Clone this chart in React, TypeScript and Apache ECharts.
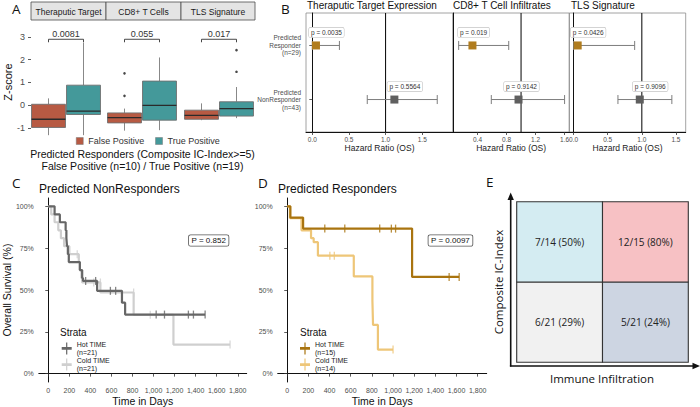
import React, { useEffect, useRef } from "react";
import * as echarts from "echarts";

const FONT = "'Liberation Sans', Arial, Helvetica, sans-serif";
const FONT_E = "'Open Sans', 'Liberation Sans', sans-serif";

// ---------- Panel A: Z-scores of predicted responders ----------
const facetNames = ["Theraputic Target", "CD8+ T Cells", "TLS Signature"];
const groupNames = ["False Positive", "True Positive"];
// [min, Q1, median, Q3, max]
const falsePositiveBoxes = [
  [-1.32, -0.98, -0.62, 0.04, 0.3],
  [-1.12, -0.78, -0.55, -0.34, -0.15],
  [-0.66, -0.62, -0.45, -0.22, 0.08],
];
const truePositiveBoxes = [
  [-1.32, -0.41, -0.26, 0.88, 2.75],
  [-1.1, -0.66, -0.01, 1.06, 2.1],
  [-0.57, -0.48, -0.15, 0.15, 0.8],
];
const falsePositiveOutliers = [[], [1.4, 0.41], []];
const truePositiveOutliers = [[], [], [2.42, 1.47]];
const facetPValues = ["0.0081", "0.055", "0.017"];
const bracketHeight = 2.9;
const zTicks = [-1, 0, 1, 2, 3];

// ---------- Panel B: hazard ratios ----------
const forestTitles = ["Theraputic Target Expression", "CD8+ T Cell Infiltrates", "TLS Signature"];
const rowLabels = ["Predicted\nNonResponder\n(n=43)", "Predicted\nResponder\n(n=29)"];
const hrResponder = [0.05, 0.33, 0.06];
const loResponder = [0.0, 0.14, 0.0];
const hiResponder = [0.37, 0.83, 0.895];
const pResponder = ["p = 0.0035", "p = 0.019", "p = 0.0426"];
const hrNonResponder = [1.12, 0.965, 0.97];
const loNonResponder = [0.75, 0.59, 0.65];
const hiNonResponder = [1.705, 1.6, 1.44];
const pNonResponder = ["p = 0.5564", "p = 0.9142", "p = 0.9096"];
const hrTicks = [
  [0, 0.5, 1, 1.5],
  [0.4, 0.8, 1.2, 1.6],
  [0, 0.5, 1, 1.5],
];
const hrRanges = [
  [-0.086, 1.92],
  [0.062, 1.665],
  [-0.063, 1.643],
];

// ---------- Panels C / D: Kaplan-Meier ----------
const kmTitles = ["Predicted NonResponders", "Predicted Responders"];
const logRankP = ["P = 0.852", "P = 0.0097"];
const dayTicks = [0, 200, 400, 600, 800, 1000, 1200, 1400, 1600, 1800];
const survTicks = [0, 25, 50, 75, 100];
const hotNames = ["Hot TIME\n(n=21)", "Hot TIME\n(n=15)"];
const coldNames = ["Cold TIME\n(n=21)", "Cold TIME\n(n=14)"];

const hotC = [
  [0, 100], [60, 95.2], [110, 90.5], [165, 85.7], [172, 81], [178, 76.2], [186, 71.4],
  [195, 66.7], [300, 61.9], [322, 57.1], [330, 55.4], [464, 49.5], [700, 42.4], [730, 35.3], [1490, 35.3],
];
const hotCCensor = [
  [355, 55.4], [450, 55.4], [590, 49.5], [640, 49.5], [1025, 35.3], [1104, 35.3], [1331, 35.3], [1379, 35.3], [1490, 35.3],
];
const coldC = [
  [0, 100], [28, 95.2], [60, 90.5], [95, 85.7], [120, 81], [150, 76.2], [200, 71.4], [290, 66.7],
  [300, 61.9], [315, 57.1], [322, 54.5], [495, 48.5], [811, 35.2], [1189, 17.4], [1727, 17.4],
];
const coldCCensor = [[275, 71.4], [432, 54.5], [495, 54.5], [811, 48.5], [969, 35.2], [1727, 17.4]];

const hotD = [[0, 100], [30, 93.3], [150, 86.7], [1180, 57.8], [1625, 57.8]];
const hotDCensor = [[355, 86.7], [544, 86.7], [874, 86.7], [984, 86.7], [1024, 86.7], [1530, 57.8], [1625, 57.8]];
const coldD = [
  [0, 100], [25, 92.9], [135, 85.7], [225, 81], [250, 78.6], [290, 70.5], [629, 58.1],
  [805, 43.6], [811, 29.1], [857, 14.4], [1000, 14.4],
];
const coldDCensor = [[403, 70.5], [445, 70.5], [1000, 14.4]];

// ---------- Panel E: response rates by quadrant ----------
const immuneLevels = ["Low", "High"];
const icIndexLevels = ["Low", "High"];
// cells: [immune index, IC-index index]
const quadCells = [
  [0, 0],
  [1, 0],
  [0, 1],
  [1, 1],
];
const quadResponders = [6, 5, 7, 12];
const quadTotals = [21, 21, 14, 15];
const quadColors = ["#F1F1F1", "#CDD5E2", "#D4ECF2", "#F7C1C4"];

// ---------- styles ----------
const COL_FP = "#B75A43";
const COL_TP = "#44999A";
const COL_RESP = "#B07C1E";
const COL_NONRESP = "#5F5F5F";
const COL_HOT_C = "#666666";
const COL_COLD_C = "#CFCFCF";
const COL_HOT_D = "#A9740F";
const COL_COLD_D = "#EEC678";
const PLUS_ICON = "path://M0,4.6H4.4V0H5.6V4.6H10V7.4H5.6V12H4.4V7.4H0Z";

function boxRender(color: string) {
  return (params: any, api: any) => {
    const x = api.value(0);
    const pMin = api.coord([x, api.value(1)]);
    const pQ1 = api.coord([x, api.value(2)]);
    const pMed = api.coord([x, api.value(3)]);
    const pQ3 = api.coord([x, api.value(4)]);
    const pMax = api.coord([x, api.value(5)]);
    const bw = api.size([1, 0])[0] * 0.97;
    const cx = pMed[0];
    const ws = { stroke: "#7a7a7a", lineWidth: 0.9 };
    return {
      type: "group",
      children: [
        { type: "line", shape: { x1: cx, y1: pMax[1], x2: cx, y2: pQ3[1] }, style: ws },
        { type: "line", shape: { x1: cx, y1: pQ1[1], x2: cx, y2: pMin[1] }, style: ws },
        {
          type: "rect",
          shape: { x: cx - bw / 2, y: pQ3[1], width: bw, height: pQ1[1] - pQ3[1] },
          style: { fill: color, stroke: "#6f6f6f", lineWidth: 0.9 },
        },
        {
          type: "line",
          shape: { x1: cx - bw / 2, y1: pMed[1], x2: cx + bw / 2, y2: pMed[1] },
          style: { stroke: "#2a2a2a", lineWidth: 1.3 },
        },
      ],
    };
  };
}

function bracketRender(label: string) {
  return (params: any, api: any) => {
    const y = api.value(1);
    const a = api.coord([0, y]);
    const b = api.coord([1, y]);
    return {
      type: "group",
      children: [
        {
          type: "polyline",
          shape: { points: [[a[0], a[1] + 3], [a[0], a[1]], [b[0], b[1]], [b[0], b[1] + 3]] },
          style: { stroke: "#333", lineWidth: 0.9, fill: "none" },
        },
        {
          type: "text",
          x: (a[0] + b[0]) / 2,
          y: a[1] - 1,
          style: { text: label, fontSize: 9, fontFamily: FONT, fill: "#333", align: "center", verticalAlign: "bottom" },
        },
      ],
    };
  };
}

const labelShift = [7, 14.5, 7];

function forestRender(j: number) {
  return (params: any, api: any) => {
    const hr = api.value(0);
    const lo = api.value(1);
    const hi = api.value(2);
    const row = api.value(3);
    const pc = api.coord([hr, row]);
    const pl = api.coord([lo, row]);
    const ph = api.coord([hi, row]);
    const isResp = row === 2;
    const ls = { stroke: "#7d7d7d", lineWidth: 1 };
    const cap = 4.5;
    return {
      type: "group",
      children: [
        { type: "line", shape: { x1: pl[0], y1: pc[1], x2: ph[0], y2: pc[1] }, style: ls },
        { type: "line", shape: { x1: pl[0], y1: pc[1] - cap, x2: pl[0], y2: pc[1] + cap }, style: ls },
        { type: "line", shape: { x1: ph[0], y1: pc[1] - cap, x2: ph[0], y2: pc[1] + cap }, style: ls },
        {
          type: "rect",
          shape: { x: pc[0] - 4, y: pc[1] - 4, width: 8, height: 8 },
          style: { fill: isResp ? COL_RESP : COL_NONRESP },
        },
        {
          type: "text",
          x: pc[0] - labelShift[j],
          y: pc[1] - 13,
          style: {
            text: isResp ? pResponder[j] : pNonResponder[j],
            fontSize: 6.5,
            fontFamily: FONT,
            fill: "#333",
            align: "left",
            verticalAlign: "middle",
            backgroundColor: "#fff",
            borderColor: "#c4c4c4",
            borderWidth: 0.6,
            borderRadius: 1.5,
            padding: [1.5, 2, 1, 2],
          },
        },
      ],
    };
  };
}

function quadRender(params: any, api: any) {
  const idx = params.dataIndex;
  const c = api.coord([api.value(0), api.value(1)]);
  const s = api.size([1, 1]);
  const r = quadResponders[idx];
  const t = quadTotals[idx];
  return {
    type: "group",
    children: [
      {
        type: "rect",
        shape: { x: c[0] - s[0] / 2, y: c[1] - s[1] / 2, width: s[0], height: s[1] },
        style: { fill: quadColors[idx], stroke: "#333", lineWidth: 1.1 },
      },
      {
        type: "text",
        x: c[0],
        y: c[1],
        style: {
          text: `${r}/${t} (${Math.round((100 * r) / t)}%)`,
          fontSize: 10,
          fontFamily: FONT_E,
          fill: "#222",
          align: "center",
          verticalAlign: "middle",
        },
      },
    ],
  };
}

function txt(text: string, x: number, y: number, size: number, extra: any = {}) {
  return {
    type: "text",
    x,
    y,
    silent: true,
    z: 20,
    style: { text, fontSize: size, fontFamily: FONT, fill: "#111", align: "left", verticalAlign: "middle", ...extra },
  };
}

function buildOption(): any {
  const grids: any[] = [];
  const xAxes: any[] = [];
  const yAxes: any[] = [];
  const series: any[] = [];

  // Panel A grids 0..2
  const aLefts = [31, 107, 184];
  aLefts.forEach((left, i) => {
    grids.push({ left, top: 27, width: 70, height: 110 });
    xAxes.push({ type: "category", gridIndex: i, data: groupNames, show: false });
    yAxes.push({
      type: "value",
      gridIndex: i,
      min: -1.4,
      max: 3.44,
      splitLine: { show: false },
      axisLine: { show: false },
      axisTick: { show: i === 0, length: 3, customValues: zTicks, lineStyle: { color: "#333", width: 0.8 } },
      axisLabel: { show: i === 0, customValues: zTicks, fontSize: 9, color: "#4d4d4d", margin: 6, fontFamily: FONT },
      name: i === 0 ? "Z-score" : "",
      nameLocation: "middle",
      nameGap: 12,
      nameTextStyle: { fontSize: 11, color: "#111", fontFamily: FONT },
    });
    [falsePositiveBoxes, truePositiveBoxes].forEach((boxes, g) => {
      const color = g ? COL_TP : COL_FP;
      series.push({
        type: "custom",
        name: groupNames[g],
        xAxisIndex: i,
        yAxisIndex: i,
        itemStyle: { color },
        encode: { x: 0, y: [1, 2, 3, 4, 5] },
        data: [[g, ...boxes[i]]],
        renderItem: boxRender(color),
        z: 2,
      });
    });
    series.push({
      type: "scatter",
      xAxisIndex: i,
      yAxisIndex: i,
      symbolSize: 2.6,
      itemStyle: { color: "#1a1a1a" },
      data: [
        ...falsePositiveOutliers[i].map((v) => [0, v]),
        ...truePositiveOutliers[i].map((v) => [1, v]),
      ],
      silent: true,
      z: 3,
    });
    series.push({
      type: "custom",
      xAxisIndex: i,
      yAxisIndex: i,
      encode: { x: 0, y: 1 },
      data: [[0, bracketHeight]],
      renderItem: bracketRender(facetPValues[i]),
      silent: true,
      z: 3,
    });
  });

  // Panel B grids 3..5
  const bGeom = [
    [306, 147],
    [453, 116.3],
    [569.3, 116.4],
  ];
  bGeom.forEach(([left, width], j) => {
    const gi = 3 + j;
    grids.push({ left, top: 13, width, height: 119, show: true, borderColor: "#8c8c8c", borderWidth: 0.8 });
    xAxes.push({
      type: "value",
      gridIndex: gi,
      min: hrRanges[j][0],
      max: hrRanges[j][1],
      splitLine: { show: false },
      axisLine: { show: true, lineStyle: { color: "#111", width: 1 } },
      axisTick: { show: true, length: 3, customValues: hrTicks[j], lineStyle: { color: "#333", width: 0.8 } },
      axisLabel: {
        customValues: hrTicks[j],
        fontSize: 6.5,
        color: "#4d4d4d",
        margin: 4,
        fontFamily: FONT,
        formatter: (v: number) => v.toFixed(1),
      },
      name: "Hazard Ratio (OS)",
      nameLocation: "middle",
      nameGap: 10,
      nameTextStyle: { fontSize: 8.5, color: "#222", fontFamily: FONT },
    });
    yAxes.push({
      type: "value",
      gridIndex: gi,
      min: 0.4,
      max: 2.6,
      splitLine: { show: false },
      axisLine: { show: true, lineStyle: { color: "#111", width: 1 } },
      axisTick: { show: j === 0, length: 3, customValues: [1, 2], lineStyle: { color: "#333", width: 0.8 } },
      axisLabel: {
        show: j === 0,
        customValues: [1, 2],
        fontSize: 6.5,
        lineHeight: 7.5,
        color: "#4d4d4d",
        margin: 5,
        fontFamily: FONT,
        formatter: (v: number) => rowLabels[Math.round(v) - 1] || "",
      },
    });
    series.push({
      type: "line",
      xAxisIndex: gi,
      yAxisIndex: gi,
      data: [
        [1, 0.4],
        [1, 2.6],
      ],
      symbol: "none",
      lineStyle: { color: "#000", width: 1 },
      silent: true,
      z: 1,
    });
    series.push({
      type: "custom",
      xAxisIndex: gi,
      yAxisIndex: gi,
      encode: { x: [0, 1, 2], y: 3 },
      data: [
        [hrNonResponder[j], loNonResponder[j], hiNonResponder[j], 1],
        [hrResponder[j], loResponder[j], hiResponder[j], 2],
      ],
      renderItem: forestRender(j),
      silent: true,
      z: 2,
    });
  });

  // Panels C/D grids 6,7
  const kmGeom = [
    [38.3, 208.4],
    [277.7, 209],
  ];
  const kmSets = [
    { hot: hotC, hotCen: hotCCensor, cold: coldC, coldCen: coldCCensor, hc: COL_HOT_C, cc: COL_COLD_C },
    { hot: hotD, hotCen: hotDCensor, cold: coldD, coldCen: coldDCensor, hc: COL_HOT_D, cc: COL_COLD_D },
  ];
  kmGeom.forEach(([left, width], k) => {
    const gi = 6 + k;
    grids.push({ left, top: 198, width, height: 185.3 });
    xAxes.push({
      type: "value",
      gridIndex: gi,
      min: -90,
      max: 1885,
      splitLine: { show: false },
      axisLine: { show: true, lineStyle: { color: "#111", width: 1 } },
      axisTick: { show: true, length: 3, customValues: dayTicks, lineStyle: { color: "#333", width: 0.8 } },
      axisLabel: { customValues: dayTicks, fontSize: 7, color: "#4d4d4d", margin: 5, fontFamily: FONT },
      name: "Time in Days",
      nameLocation: "middle",
      nameGap: 13,
      nameTextStyle: { fontSize: 10.5, color: "#111", fontFamily: FONT },
    });
    yAxes.push({
      type: "value",
      gridIndex: gi,
      min: -5,
      max: 105,
      splitLine: { show: false },
      axisLine: { show: true, lineStyle: { color: "#111", width: 1 } },
      axisTick: { show: true, length: 3, customValues: survTicks, lineStyle: { color: "#333", width: 0.8 } },
      axisLabel: {
        customValues: survTicks,
        fontSize: 7,
        color: "#4d4d4d",
        margin: 5,
        fontFamily: FONT,
        formatter: (v: number) => v + "%",
      },
      name: k === 0 ? "Overall Survival (%)" : "",
      nameLocation: "middle",
      nameGap: 25,
      nameTextStyle: { fontSize: 10.5, color: "#111", fontFamily: FONT },
    });
    const s = kmSets[k];
    series.push({
      type: "line",
      name: coldNames[k],
      xAxisIndex: gi,
      yAxisIndex: gi,
      data: s.cold,
      step: "end",
      symbol: "none",
      showSymbol: false,
      lineStyle: { color: s.cc, width: 2.2 },
      itemStyle: { color: s.cc },
      z: 2,
    });
    series.push({
      type: "scatter",
      xAxisIndex: gi,
      yAxisIndex: gi,
      data: s.coldCen,
      symbol: "rect",
      symbolSize: [1.3, 8],
      itemStyle: { color: s.cc },
      silent: true,
      z: 3,
    });
    series.push({
      type: "line",
      name: hotNames[k],
      xAxisIndex: gi,
      yAxisIndex: gi,
      data: s.hot,
      step: "end",
      symbol: "none",
      showSymbol: false,
      lineStyle: { color: s.hc, width: 2.2 },
      itemStyle: { color: s.hc },
      z: 4,
    });
    series.push({
      type: "scatter",
      xAxisIndex: gi,
      yAxisIndex: gi,
      data: s.hotCen,
      symbol: "rect",
      symbolSize: [1.3, 8],
      itemStyle: { color: s.hc },
      silent: true,
      z: 5,
    });
  });

  // Panel E grid 8
  grids.push({ left: 516.7, top: 201.7, width: 171.6, height: 160.6 });
  xAxes.push({ type: "category", gridIndex: 8, data: immuneLevels, show: false });
  yAxes.push({ type: "category", gridIndex: 8, data: icIndexLevels, show: false });
  series.push({
    type: "custom",
    xAxisIndex: 8,
    yAxisIndex: 8,
    encode: { x: 0, y: 1 },
    data: quadCells.map((c, idx) => [c[0], c[1], quadResponders[idx]]),
    renderItem: quadRender,
    silent: true,
    z: 2,
  });

  const graphic: any[] = [];
  // panel letters
  graphic.push(txt("A", 12, 8.5, 13.5, { fontFamily: FONT_E }));
  graphic.push(txt("B", 281, 8.5, 13.5, { fontFamily: FONT_E }));
  graphic.push(txt("C", 12, 183, 13.5, { fontFamily: FONT_E }));
  graphic.push(txt("D", 258, 183, 13.5, { fontFamily: FONT_E }));
  graphic.push(txt("E", 486, 182, 13.5, { fontFamily: FONT_E }));
  // strips for A
  const stripX = [31, 106, 181, 255];
  facetNames.forEach((name, i) => {
    graphic.push({
      type: "rect",
      shape: { x: stripX[i], y: 2, width: stripX[i + 1] - stripX[i], height: 18 },
      style: { fill: "#e4e4e4", stroke: "#4d4d4d", lineWidth: 0.8 },
      silent: true,
      z: 19,
    });
    graphic.push(txt(name, (stripX[i] + stripX[i + 1]) / 2, 11.5, 8.5, { align: "center", fill: "#1a1a1a" }));
  });
  graphic.push(txt("Predicted Responders (Composite IC-Index>=5)", 142.5, 153.5, 10.5, { align: "center" }));
  graphic.push(txt("False Positive (n=10) / True Positive (n=19)", 142.5, 165.5, 10.5, { align: "center" }));
  // B titles
  const bTitleX = [307, 453, 571];
  forestTitles.forEach((t, j) => graphic.push(txt(t, bTitleX[j], 5, 10)));
  // C/D titles, p boxes, strata
  const kmTitleX = [39, 278];
  const pBoxX = [189, 428.5];
  const strataX = [60, 300];
  kmTitles.forEach((t, k) => {
    graphic.push(txt(t, kmTitleX[k], 188.5, 12));
    graphic.push(
      txt(logRankP[k], pBoxX[k], 240.5, 8, {
        backgroundColor: "#fff",
        borderColor: "#555",
        borderWidth: 0.8,
        borderRadius: 1.5,
        padding: [1.5, 2.5, 1, 2.5],
        fill: "#111",
      })
    );
    graphic.push(txt("Strata", strataX[k], 332.5, 10));
  });
  // E arrows & axis titles
  const arrowCol = "#111";
  graphic.push({ type: "line", shape: { x1: 510.7, y1: 366.5, x2: 510.7, y2: 198 }, style: { stroke: arrowCol, lineWidth: 1.6 }, z: 20, silent: true });
  graphic.push({ type: "polygon", shape: { points: [[510.7, 192.5], [507.5, 200], [513.9, 200]] }, style: { fill: arrowCol }, z: 20, silent: true });
  graphic.push({ type: "line", shape: { x1: 509.9, y1: 366, x2: 694, y2: 366 }, style: { stroke: arrowCol, lineWidth: 1.6 }, z: 20, silent: true });
  graphic.push({ type: "polygon", shape: { points: [[700, 366], [692.5, 362.8], [692.5, 369.2]] }, style: { fill: arrowCol }, z: 20, silent: true });
  graphic.push({
    type: "text",
    x: 498.5,
    y: 282,
    rotation: Math.PI / 2,
    silent: true,
    z: 20,
    style: { text: "Composite IC-Index", fontSize: 11.5, fontFamily: FONT_E, fill: "#111", align: "center", verticalAlign: "middle" },
  });
  graphic.push(txt("Immune Infiltration", 602, 378.5, 11.5, { align: "center", fontFamily: FONT_E }));

  const kmLegend = (names: string[], left: number) => ({
    data: names,
    orient: "vertical",
    left,
    top: 340.8,
    padding: 0,
    itemWidth: 10,
    itemHeight: 12,
    itemGap: 1,
    icon: PLUS_ICON,
    textStyle: { fontSize: 7, lineHeight: 7.6, color: "#222", fontFamily: FONT },
    selectedMode: false,
  });

  return {
    animation: false,
    backgroundColor: "#fff",
    textStyle: { fontFamily: FONT },
    grid: grids,
    xAxis: xAxes,
    yAxis: yAxes,
    legend: [
      {
        data: groupNames,
        left: 76,
        top: 136.5,
        padding: 0,
        itemWidth: 7,
        itemHeight: 7,
        itemGap: 11,
        icon: "rect",
        itemStyle: { borderColor: "#777", borderWidth: 0.5 },
        textStyle: { fontSize: 9, color: "#333", fontFamily: FONT },
        selectedMode: false,
      },
      kmLegend([hotNames[0], coldNames[0]], 61.7),
      kmLegend([hotNames[1], coldNames[1]], 300),
    ],
    series,
    graphic,
  };
}

export default function App() {
  const ref = useRef<HTMLDivElement>(null);
  useEffect(() => {
    if (!ref.current) return;
    const chart = echarts.init(ref.current, null, { renderer: "svg" });
    chart.setOption(buildOption());
    return () => chart.dispose();
  }, []);
  return (
    <div
      ref={ref}
      style={{ position: "absolute", left: 0, top: 0, width: 700, height: 407, background: "#fff" }}
    />
  );
}
